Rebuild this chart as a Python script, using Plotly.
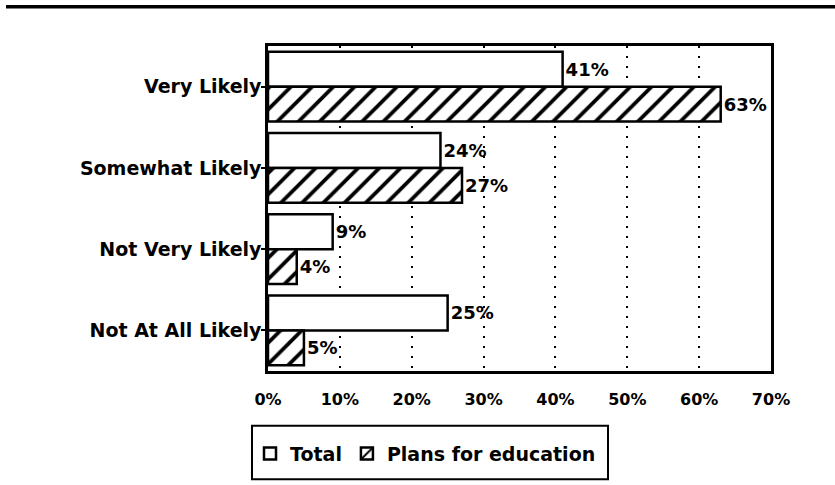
import plotly.graph_objects as go

categories = ["Very Likely", "Somewhat Likely", "Not Very Likely", "Not At All Likely"]
total = [41, 24, 9, 25]
plans = [63, 27, 4, 5]
series_names = ["Total", "Plans for education"]
tick_vals = [0, 10, 20, 30, 40, 50, 60, 70]
tick_text = ["0%", "10%", "20%", "30%", "40%", "50%", "60%", "70%"]

FONT = "DejaVu Sans"
W, H = 835, 485
L, R, T, B = 268, 771, 46, 373
pw, ph = R - L, B - T

def px(x):
    return (x - L) / pw

def py(y):
    return (B - y) / ph

fig = go.Figure()
fig.add_trace(go.Bar(
    y=categories, x=total, orientation="h", name=series_names[0],
    marker=dict(color="white", line=dict(color="black", width=2.5)),
    text=[f"{v}%" for v in total], textposition="outside",
    textfont=dict(family=FONT, size=18, color="black", weight="bold"),
    cliponaxis=False,
))
fig.add_trace(go.Bar(
    y=categories, x=plans, orientation="h", name=series_names[1],
    marker=dict(color="white", line=dict(color="black", width=2.5),
                pattern=dict(shape="/", fgcolor="black", fgopacity=1, bgcolor="white",
                             size=15, solidity=0.25)),
    text=[f"{v}%" for v in plans], textposition="outside",
    textfont=dict(family=FONT, size=18, color="black", weight="bold"),
    cliponaxis=False,
))

fig.update_layout(
    width=W, height=H,
    margin=dict(l=L, r=W - R, t=T, b=H - B, pad=0),
    paper_bgcolor="white", plot_bgcolor="white",
    barmode="group", bargap=0.14, bargroupgap=0,
    font=dict(family=FONT, color="black"),
    showlegend=True,
    legend=dict(orientation="h", x=px(250), y=py(437), xanchor="left", yanchor="top",
                font=dict(family=FONT, size=19, color="black", weight="bold"),
                bgcolor="rgba(0,0,0,0)", borderwidth=0, itemwidth=30),
    xaxis=dict(range=[0, 70], tickvals=tick_vals, ticktext=tick_text,
               showgrid=True, gridcolor="black", gridwidth=2, griddash="2px,8px",
               showline=True, linecolor="black", linewidth=2.5, mirror=True,
               ticks="", ticklabelstandoff=12, zeroline=False,
               tickfont=dict(family=FONT, size=16, color="black", weight="bold")),
    yaxis=dict(autorange="reversed", showgrid=False,
               showline=True, linecolor="black", linewidth=2.5, mirror=True,
               ticks="outside", ticklen=4, tickcolor="black", tickwidth=2,
               ticklabelstandoff=-4,
               tickfont=dict(family=FONT, size=19, color="black", weight="bold")),
    shapes=[
        dict(type="line", xref="paper", yref="paper", x0=px(6), x1=px(835), y0=py(6.5), y1=py(6.5),
             line=dict(color="black", width=3.5)),
        dict(type="rect", xref="paper", yref="paper", x0=px(252), x1=px(608), y0=py(428), y1=py(482),
             line=dict(color="black", width=2)),
    ],
)

fig.write_html("out.html", config={"displayModeBar": False},
               post_script="document.body.style.margin='0px';")
